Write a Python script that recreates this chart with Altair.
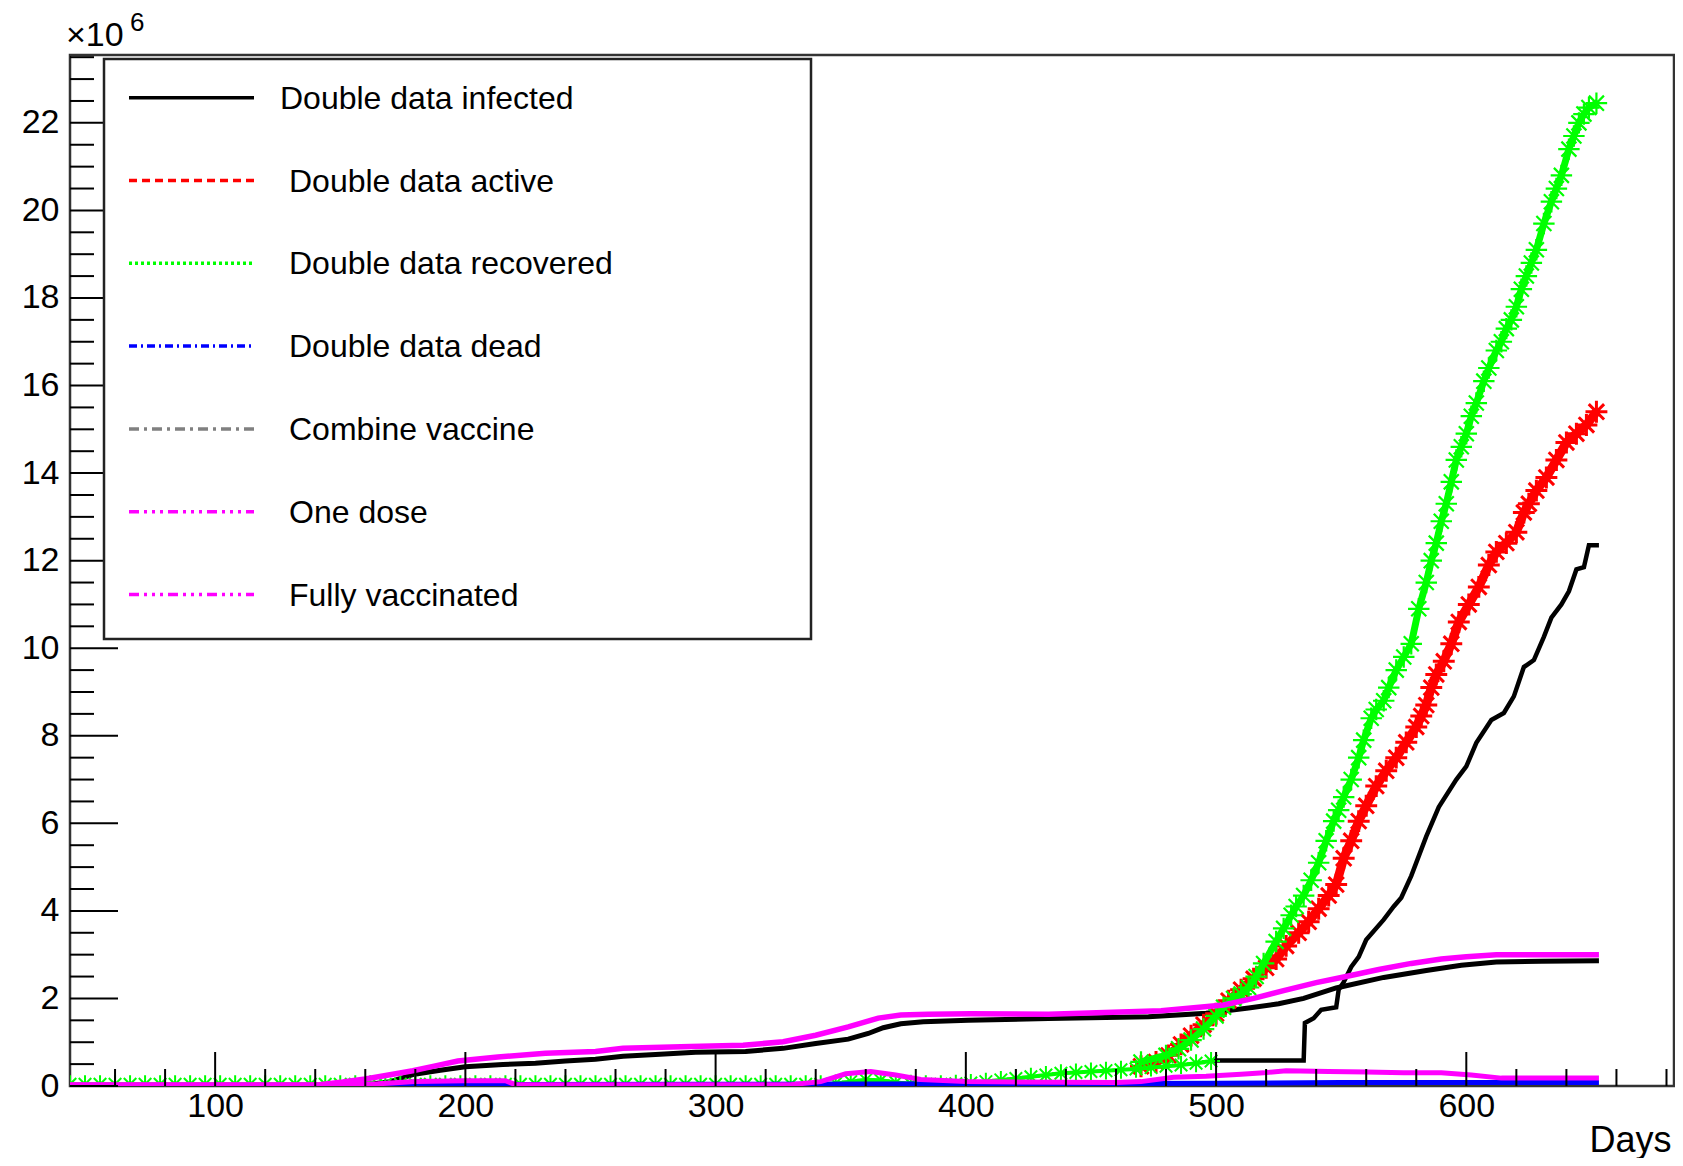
import altair as alt
import pandas as pd

W, H = 1604, 1031
FONT = "Liberation Sans"

# ---------------- data (x: days, y: units of 10^6) ----------------
INF_LOW_DAYS = [42, 100, 150, 160, 170, 179, 190, 200, 215, 228, 240, 252, 263, 276, 292, 312, 327, 340,
                353, 361, 367, 374, 383, 401, 433, 473, 496, 513, 525, 535, 548, 567, 584, 598, 612, 630, 653]
INF_LOW_VALS = [0.0, 0.0, 0.01, 0.03, 0.1, 0.26, 0.36, 0.44, 0.49, 0.52, 0.57, 0.61, 0.68, 0.72, 0.77, 0.79,
                0.86, 0.97, 1.07, 1.2, 1.33, 1.42, 1.47, 1.5, 1.54, 1.58, 1.66, 1.78, 1.88, 2.0, 2.24, 2.48,
                2.64, 2.76, 2.83, 2.85, 2.86]

INF_HIGH_DAYS = [499, 535, 535.5, 539, 542, 548, 549, 551, 554, 557, 560, 567, 571, 574, 578, 584, 589, 596,
                 600, 604, 610, 615, 619, 623, 627, 631, 634, 638, 641, 644, 647, 649, 653]
INF_HIGH_VALS = [0.58, 0.58, 1.44, 1.55, 1.74, 1.8, 2.2, 2.37, 2.72, 2.95, 3.34, 3.8, 4.1, 4.3, 4.8, 5.7,
                 6.37, 7.0, 7.3, 7.84, 8.36, 8.52, 8.9, 9.57, 9.73, 10.26, 10.7, 11.0, 11.3, 11.8, 11.85,
                 12.35, 12.35]

ACTIVE_DAYS = [470, 476, 481, 486, 490, 495, 500, 505, 510, 515, 520, 524, 528, 533, 537, 541, 545, 548, 551,
               554, 557, 560, 564, 568, 572, 576, 580, 582, 584, 586, 588, 591, 594, 597, 601, 605, 609, 612,
               616, 620, 623, 625, 628, 632, 636, 640, 644, 648, 652]
ACTIVE_VALS = [0.45, 0.55, 0.7, 0.95, 1.15, 1.4, 1.65, 1.95, 2.2, 2.45, 2.7, 2.9, 3.2, 3.5, 3.75, 4.05, 4.35,
               4.6, 5.2, 5.6, 6.05, 6.4, 6.85, 7.2, 7.5, 7.85, 8.2, 8.45, 8.7, 9.1, 9.4, 9.7, 10.1, 10.6, 11.0,
               11.4, 11.9, 12.2, 12.4, 12.65, 13.1, 13.3, 13.6, 13.9, 14.3, 14.7, 14.9, 15.1, 15.4]

REC_LOW_DAYS = [42, 48, 54, 60, 66, 72, 78, 84, 90, 96, 102, 108, 114, 120, 126, 132, 138, 144, 150, 156,
                162, 168, 174, 180, 186, 192, 198, 204, 210, 216, 222, 228, 234, 240, 246, 252, 258, 264,
                270, 276, 282, 288, 294, 300, 306, 312, 318, 324, 330, 336, 342, 348, 354, 360, 366, 372,
                378, 384, 390, 396, 402, 408, 414, 420, 426, 432, 438, 444, 450, 456, 462, 468, 474, 480,
                486, 492, 498]
REC_LOW_VALS = [0.04, 0.04, 0.04, 0.04, 0.04, 0.04, 0.04, 0.04, 0.04, 0.04, 0.04, 0.04, 0.04, 0.04, 0.04,
                0.04, 0.04, 0.04, 0.04, 0.04, 0.04, 0.04, 0.04, 0.04, 0.04, 0.04, 0.04, 0.04, 0.04, 0.04,
                0.04, 0.04, 0.04, 0.04, 0.04, 0.04, 0.04, 0.04, 0.04, 0.04, 0.04, 0.04, 0.04, 0.04, 0.04,
                0.04, 0.04, 0.04, 0.04, 0.04, 0.04, 0.06, 0.1, 0.14, 0.13, 0.08, 0.05, 0.04, 0.04, 0.05,
                0.07, 0.1, 0.14, 0.17, 0.21, 0.25, 0.29, 0.31, 0.33, 0.35, 0.37, 0.39, 0.42, 0.45, 0.48,
                0.52, 0.57]

REC_HIGH_DAYS = [470, 480, 485, 490, 495, 500, 503, 507, 510, 513, 516, 519, 524, 527, 530, 532, 535, 538,
                 541, 544, 547, 549, 551, 554, 557, 559, 562, 564, 567, 569, 572, 575, 578, 581, 584, 586,
                 588, 590, 592, 594, 596, 598, 600, 602, 604, 607, 609, 612, 614, 616, 618, 620, 622, 624,
                 626, 628, 631, 634, 636, 638, 641, 643, 645, 647, 649, 652]
REC_HIGH_VALS = [0.55, 0.7, 0.85, 1.05, 1.3, 1.6, 1.8, 2.0, 2.1, 2.25, 2.5, 2.8, 3.3, 3.6, 3.9, 4.1, 4.35,
                 4.7, 5.1, 5.6, 6.05, 6.3, 6.6, 7.0, 7.5, 7.9, 8.4, 8.6, 8.8, 9.1, 9.5, 9.8, 10.1, 10.9,
                 11.5, 12.0, 12.4, 12.9, 13.3, 13.8, 14.3, 14.6, 14.9, 15.3, 15.6, 16.1, 16.4, 16.8, 17.0,
                 17.3, 17.5, 17.8, 18.2, 18.5, 18.8, 19.1, 19.7, 20.2, 20.5, 20.8, 21.4, 21.7, 22.0, 22.2,
                 22.35, 22.45]

DEAD_DAYS = [42, 150, 200, 300, 400, 500, 550, 600, 653]
DEAD_VALS = [0.0, 0.01, 0.03, 0.04, 0.05, 0.06, 0.08, 0.08, 0.08]

DOSE_HIGH_DAYS = [42, 140, 151, 160, 167, 179, 188, 197, 213, 232, 252, 263, 290, 311, 327, 340, 353, 365,
                  374, 385, 402, 433, 478, 503, 515, 527, 540, 551, 565, 578, 590, 600, 612, 653]
DOSE_HIGH_VALS = [0.02, 0.02, 0.09, 0.16, 0.23, 0.35, 0.46, 0.57, 0.66, 0.75, 0.79, 0.86, 0.9, 0.93, 1.01,
                  1.16, 1.35, 1.55, 1.62, 1.64, 1.65, 1.64, 1.72, 1.85, 2.0, 2.18, 2.36, 2.49, 2.66, 2.8,
                  2.9, 2.95, 3.0, 3.0]

DOSE_LOW_DAYS = [42, 150, 165, 180, 200, 216, 220, 330, 342, 352, 362, 372, 382, 400, 460, 470, 483, 496,
                 510, 519, 528, 545, 560, 575, 590, 602, 614, 653]
DOSE_LOW_VALS = [0.02, 0.02, 0.05, 0.1, 0.12, 0.12, 0.03, 0.03, 0.1, 0.28, 0.33, 0.25, 0.15, 0.1, 0.08,
                 0.1, 0.2, 0.22, 0.27, 0.3, 0.35, 0.33, 0.32, 0.3, 0.3, 0.25, 0.18, 0.18]

# axis ticks
X_LABELS = [100, 200, 300, 400, 500, 600]
Y_LABELS = [0, 2, 4, 6, 8, 10, 12, 14, 16, 18, 20, 22]
X_MINOR = [v for v in range(60, 684, 20) if v % 100 != 0]
Y_MINOR = [v / 2 for v in range(1, 48) if v % 4 != 0]

# legend
LEGEND_LABELS = ["Double data infected", "Double data active", "Double data recovered",
                 "Double data dead", "Combine vaccine", "One dose", "Fully vaccinated"]
LEGEND_COLORS = ["#000000", "#ff0000", "#00ff00", "#0000ff", "#808080", "#ff00ff", "#ff00ff"]
LEGEND_DASH = [[], [8, 5], [3, 3], [8, 4, 2, 4], [10, 5, 3, 5], [10, 5, 3, 5, 3, 5, 3, 5],
               [10, 5, 3, 5, 3, 5, 3, 5]]

STAR = "M-1,0L1,0M0,-1L0,1M-0.7,-0.7L0.7,0.7M-0.7,0.7L0.7,-0.7"

# ---------------- encodings ----------------
x_enc = alt.X("day:Q",
              scale=alt.Scale(domain=[42, 683], nice=False, zero=False),
              axis=alt.Axis(values=X_LABELS, ticks=False, tickSize=0, domain=False, grid=False,
                            labelFont=FONT, labelFontSize=34, labelColor="black", labelPadding=30,
                            labelBaseline="alphabetic", labelFlush=False, labelOverlap=False,
                            title="Days", titleFont=FONT, titleFontSize=36, titleFontWeight="normal",
                            titleColor="black", titleAnchor="end", titleAlign="right",
                            titleX=W - 3, titleY=65, titleBaseline="alphabetic"))
y_enc = alt.Y("value:Q",
              scale=alt.Scale(domain=[0, 23.55], nice=False, zero=False),
              axis=alt.Axis(values=Y_LABELS, ticks=False, tickSize=0, domain=False, grid=False,
                            labelFont=FONT, labelFontSize=34, labelColor="black", labelPadding=11,
                            labelFlush=False, labelOverlap=False, title=None))


def frame(days, vals):
    return pd.DataFrame({"day": days, "value": vals})


def line(days, vals, color, width):
    return alt.Chart(frame(days, vals)).mark_line(color=color, strokeWidth=width, clip=True).encode(
        x=x_enc, y=y_enc)


def stars(days, vals, color, size, sw):
    return alt.Chart(frame(days, vals)).mark_point(shape=STAR, size=size, filled=False, color=color,
                                                   strokeWidth=sw, opacity=1, clip=True).encode(
        x=x_enc, y=y_enc)


layers = [
    line(INF_LOW_DAYS, INF_LOW_VALS, "#000000", 5),
    line(INF_HIGH_DAYS, INF_HIGH_VALS, "#000000", 4.5),
    line(ACTIVE_DAYS, ACTIVE_VALS, "#ff0000", 9),
    stars(ACTIVE_DAYS, ACTIVE_VALS, "#ff0000", 480, 3),
    line(REC_LOW_DAYS, REC_LOW_VALS, "#00ff00", 4),
    stars(REC_LOW_DAYS, REC_LOW_VALS, "#00ff00", 320, 2),
    line(REC_HIGH_DAYS, REC_HIGH_VALS, "#00ff00", 7),
    stars(REC_HIGH_DAYS, REC_HIGH_VALS, "#00ff00", 460, 2.2),
    line(DEAD_DAYS, DEAD_VALS, "#0000ff", 5),
    line(DOSE_LOW_DAYS, DOSE_LOW_VALS, "#ff00ff", 5),
    line(DOSE_HIGH_DAYS, DOSE_HIGH_VALS, "#ff00ff", 5.5),
]

# inward ticks
layers.append(alt.Chart(pd.DataFrame({"value": Y_LABELS})).mark_rule(color="black", strokeWidth=2).encode(
    y=y_enc, x=alt.value(0), x2=alt.value(48)))
layers.append(alt.Chart(pd.DataFrame({"value": Y_MINOR})).mark_rule(color="black", strokeWidth=2).encode(
    y=y_enc, x=alt.value(0), x2=alt.value(24)))
layers.append(alt.Chart(pd.DataFrame({"day": X_LABELS})).mark_rule(color="black", strokeWidth=2).encode(
    x=x_enc, y=alt.value(H), y2=alt.value(H - 34)))
layers.append(alt.Chart(pd.DataFrame({"day": X_MINOR})).mark_rule(color="black", strokeWidth=2).encode(
    x=x_enc, y=alt.value(H), y2=alt.value(H - 17)))

# exponent label
one = pd.DataFrame({"k": [0]})
layers.append(alt.Chart(one).mark_text(align="left", baseline="alphabetic", font=FONT, fontSize=34,
                                       color="black").encode(x=alt.value(-4), y=alt.value(-9),
                                                             text=alt.value("\u00d710")))
layers.append(alt.Chart(one).mark_text(align="left", baseline="alphabetic", font=FONT, fontSize=26,
                                       color="black").encode(x=alt.value(60), y=alt.value(-24),
                                                             text=alt.value("6")))

# legend box
layers.append(alt.Chart(one).mark_rect(fill="white", stroke="#222222", strokeWidth=2.5).encode(
    x=alt.value(34), x2=alt.value(741), y=alt.value(4), y2=alt.value(584)))
for i, (lab, col, dash) in enumerate(zip(LEGEND_LABELS, LEGEND_COLORS, LEGEND_DASH)):
    ly = 42.7 + i * 82.8
    rule_kw = dict(color=col, strokeWidth=3.5)
    if dash:
        rule_kw["strokeDash"] = dash
    layers.append(alt.Chart(one).mark_rule(**rule_kw).encode(
        x=alt.value(59), x2=alt.value(184), y=alt.value(ly)))
    layers.append(alt.Chart(pd.DataFrame({"label": [lab]})).mark_text(
        align="left", baseline="middle", font=FONT, fontSize=32, color="black").encode(
        x=alt.value(210 if i == 0 else 219), y=alt.value(ly + 1), text="label:N"))

chart = alt.layer(*layers).properties(
    width=W, height=H,
    autosize=alt.AutoSizeParams(type="none"),
    padding={"left": 62, "top": 47, "right": 1, "bottom": 72},
    background="white",
).configure_view(stroke="#333333", strokeWidth=2.5)

chart.save("out.html", embed_options={"renderer": "svg", "actions": False})
